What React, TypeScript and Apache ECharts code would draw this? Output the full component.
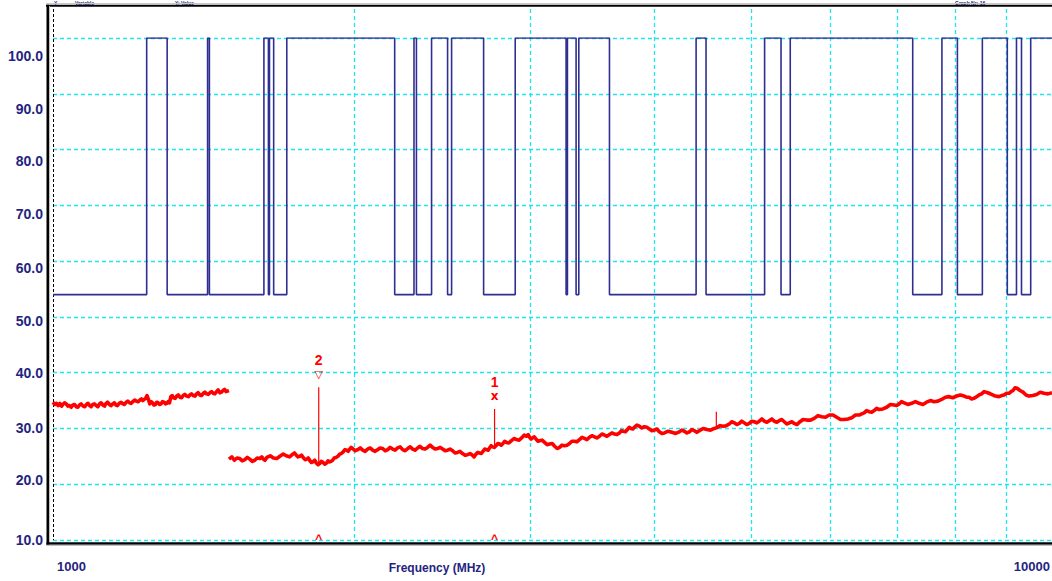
import React, { useEffect, useRef } from "react";
import * as echarts from "echarts";

// Frequency span (MHz) and vertical level range (dB)
const FREQ_MIN = 1000;
const FREQ_MAX = 10000;
const LEVEL_MIN = 10;
const LEVEL_MAX = 100;
const LEVEL_STEP = 10;

// Decade subdivisions drawn as vertical grid lines
const freqGridLines = [2000, 3000, 4000, 5000, 6000, 7000, 8000, 9000];

// Left-hand level labels and the row each one sits on
const levelLabels = ["100.0", "90.0", "80.0", "70.0", "60.0", "50.0", "40.0", "30.0", "20.0", "10.0"];
const levelLabelRows = [56, 109, 161, 214, 268, 321, 373, 428, 480, 540];

// Scan state trace: toggles between two levels at these frequencies (starts low)
const stateLow = 54;
const stateHigh = 100;
const stateEdges = [
  1241, 1301, 1428, 1434, 1626, 1643, 1647, 1663, 1714, 2198, 2298, 2311, 2393, 2483, 2506,
  2698, 2902, 3263, 3273, 3339, 3360, 3606, 4403, 4505, 5156, 5355, 5470, 7254, 7759, 8041,
  8517, 9021, 9214, 9321, 9521,
];

// Measured emission level, lower band 1000-1500 MHz
const lowBandTrace: [number, number][] = [
  [1000, 34.7], [1004, 34.3], [1008, 34.5], [1012, 34.1], [1016, 34.5], [1020, 34.0],
  [1023, 34.3], [1027, 34.6], [1031, 34.4], [1035, 34.0], [1039, 34.1], [1043, 33.8],
  [1047, 34.2], [1051, 34.3], [1055, 33.9], [1059, 33.8], [1063, 34.2], [1067, 34.4],
  [1072, 34.0], [1076, 33.9], [1080, 34.3], [1084, 34.5], [1088, 34.1], [1092, 33.9],
  [1096, 34.3], [1100, 34.4], [1105, 34.1], [1109, 33.9], [1113, 34.4], [1117, 34.6],
  [1122, 34.2], [1126, 34.0], [1130, 34.5], [1134, 34.7], [1139, 34.3], [1143, 34.1],
  [1148, 34.4], [1152, 34.6], [1156, 34.2], [1160, 34.1], [1165, 34.5], [1170, 34.7],
  [1175, 34.4], [1179, 34.3], [1184, 34.7], [1188, 34.9], [1193, 34.6], [1197, 34.5],
  [1202, 34.8], [1207, 35.1], [1212, 34.9], [1217, 34.8], [1222, 35.1], [1226, 35.3],
  [1230, 35.0], [1234, 35.2], [1238, 35.4], [1242, 35.9], [1246, 35.2], [1250, 34.4],
  [1254, 34.8], [1258, 34.6], [1262, 34.2], [1266, 34.3], [1270, 34.7], [1274, 34.6],
  [1278, 34.3], [1283, 34.4], [1287, 34.8], [1292, 34.7], [1296, 34.4], [1300, 34.5],
  [1304, 34.8], [1308, 34.6], [1312, 35.7], [1316, 35.9], [1320, 35.5], [1325, 35.4],
  [1330, 35.8], [1335, 36.0], [1340, 35.6], [1345, 35.5], [1350, 35.9], [1355, 36.1],
  [1361, 35.8], [1366, 35.7], [1371, 36.0], [1376, 36.2], [1382, 35.9], [1387, 35.8],
  [1392, 36.2], [1397, 36.4], [1403, 36.0], [1408, 35.9], [1414, 36.3], [1419, 36.5],
  [1425, 36.2], [1430, 36.1], [1436, 36.4], [1441, 36.6], [1447, 36.3], [1452, 36.2],
  [1458, 36.6], [1463, 36.9], [1469, 36.4], [1474, 36.5], [1480, 36.8], [1485, 37.0],
  [1490, 36.6], [1495, 36.7], [1500, 36.8],
];

// Measured emission level, upper band 1500-10000 MHz
const highBandTrace: [number, number][] = [
  [1500, 24.5], [1510, 24.9], [1519, 24.3], [1528, 24.7], [1538, 24.6], [1547, 24.2],
  [1556, 24.4], [1565, 24.8], [1574, 24.5], [1583, 24.1], [1592, 24.3], [1601, 24.7],
  [1611, 24.6], [1618, 24.9], [1624, 24.5], [1630, 24.3], [1637, 24.8], [1650, 25.1],
  [1662, 24.7], [1675, 24.6], [1687, 25.0], [1700, 25.4], [1712, 25.1], [1725, 24.9],
  [1738, 25.4], [1745, 25.6], [1752, 25.2], [1759, 24.9], [1766, 25.0], [1773, 25.2],
  [1780, 24.8], [1788, 24.4], [1795, 24.5], [1801, 24.7], [1808, 24.2], [1814, 23.9],
  [1820, 24.0], [1828, 24.3], [1835, 23.8], [1842, 23.5], [1849, 23.7], [1856, 24.1],
  [1864, 23.9], [1871, 23.6], [1879, 23.8], [1885, 24.2], [1892, 24.0], [1898, 24.1],
  [1905, 24.3], [1912, 24.7], [1920, 24.8], [1928, 25.0], [1936, 25.4], [1944, 25.5],
  [1952, 25.8], [1960, 26.2], [1968, 26.1], [1975, 25.9], [1982, 26.3], [1988, 26.6],
  [1995, 26.4], [2006, 26.0], [2018, 26.2], [2030, 26.5], [2042, 26.1], [2053, 25.9],
  [2065, 26.3], [2077, 26.5], [2089, 26.1], [2101, 25.9], [2113, 26.2], [2125, 26.5],
  [2138, 26.4], [2150, 26.0], [2163, 26.2], [2175, 26.6], [2188, 26.3], [2200, 26.1],
  [2213, 26.5], [2226, 26.7], [2239, 26.2], [2252, 26.0], [2265, 26.4], [2278, 26.7],
  [2291, 26.3], [2304, 26.1], [2317, 26.5], [2330, 26.8], [2344, 26.4], [2357, 26.3],
  [2371, 26.6], [2385, 27.0], [2399, 26.6], [2413, 26.3], [2427, 26.4], [2441, 26.6],
  [2455, 26.3], [2469, 26.0], [2483, 26.1], [2497, 26.3], [2512, 26.0], [2526, 25.6],
  [2541, 25.7], [2555, 25.9], [2570, 25.5], [2585, 25.2], [2600, 25.3], [2615, 25.5],
  [2630, 25.2], [2640, 24.9], [2651, 25.4], [2662, 25.7], [2673, 25.6], [2684, 25.5],
  [2694, 25.9], [2705, 26.3], [2716, 26.2], [2726, 26.1], [2735, 26.5], [2745, 26.9],
  [2754, 26.7], [2765, 26.6], [2776, 26.9], [2788, 27.3], [2799, 27.2], [2810, 27.0],
  [2821, 27.3], [2832, 27.7], [2844, 27.5], [2860, 27.4], [2877, 27.8], [2894, 28.2],
  [2911, 28.0], [2928, 27.9], [2945, 28.3], [2962, 28.8], [2979, 28.6], [2990, 28.9],
  [3000, 28.4], [3010, 28.1], [3020, 28.3], [3032, 28.5], [3045, 28.1], [3057, 27.7],
  [3069, 27.8], [3087, 27.9], [3105, 27.5], [3123, 27.1], [3141, 27.2], [3160, 27.3],
  [3178, 26.8], [3196, 26.4], [3214, 26.6], [3232, 27.0], [3251, 26.9], [3270, 27.0],
  [3289, 27.3], [3307, 27.7], [3326, 27.7], [3345, 27.6], [3365, 28.0], [3385, 28.4],
  [3404, 28.2], [3423, 28.0], [3443, 28.4], [3463, 28.7], [3483, 28.5], [3503, 28.3],
  [3524, 28.6], [3544, 29.0], [3565, 28.8], [3585, 28.6], [3606, 28.9], [3627, 29.2],
  [3648, 29.0], [3669, 28.9], [3690, 29.2], [3707, 29.6], [3724, 29.5], [3741, 29.4],
  [3758, 29.8], [3774, 30.2], [3790, 30.0], [3805, 29.9], [3819, 30.2], [3841, 30.6],
  [3863, 30.4], [3885, 30.1], [3908, 30.3], [3930, 30.2], [3953, 29.9], [3976, 29.6],
  [3999, 29.7], [4022, 29.9], [4045, 29.4], [4069, 29.1], [4093, 29.2], [4128, 29.5],
  [4164, 29.3], [4200, 29.1], [4236, 29.4], [4260, 29.7], [4285, 29.5], [4310, 29.2],
  [4335, 29.4], [4360, 29.8], [4385, 29.6], [4410, 29.3], [4436, 29.6], [4474, 30.0],
  [4513, 29.8], [4552, 29.7], [4592, 30.0], [4613, 30.1], [4654, 30.5], [4688, 30.4],
  [4720, 30.5], [4753, 30.8], [4780, 31.2], [4808, 31.0], [4836, 30.7], [4864, 30.9],
  [4892, 31.3], [4920, 31.0], [4948, 30.7], [4977, 30.9], [5006, 31.3], [5035, 31.2],
  [5064, 31.0], [5093, 31.3], [5122, 31.7], [5152, 31.3], [5182, 31.1], [5212, 31.4],
  [5242, 31.7], [5272, 31.3], [5302, 31.1], [5333, 31.4], [5364, 31.6], [5395, 31.2],
  [5426, 30.8], [5458, 31.0], [5490, 31.2], [5521, 30.9], [5553, 30.7], [5585, 31.1],
  [5634, 31.6], [5683, 31.5], [5732, 31.5], [5781, 31.8], [5831, 32.3], [5882, 32.1],
  [5933, 32.0], [5984, 32.4], [6036, 32.4], [6088, 32.0], [6141, 31.6], [6194, 31.6],
  [6248, 31.7], [6302, 31.9], [6357, 32.4], [6412, 32.4], [6449, 32.6], [6486, 32.8],
  [6523, 33.2], [6561, 33.0], [6599, 32.9], [6637, 33.2], [6675, 33.6], [6714, 33.4],
  [6772, 33.5], [6831, 33.8], [6890, 34.3], [6950, 34.2], [6990, 34.1], [7030, 34.4],
  [7071, 34.8], [7112, 34.6], [7174, 34.3], [7236, 34.5], [7299, 34.8], [7362, 34.5],
  [7426, 34.3], [7490, 34.7], [7555, 35.0], [7621, 34.8], [7687, 34.9], [7754, 35.2],
  [7821, 35.6], [7889, 35.7], [7957, 35.5], [8026, 35.8], [8096, 36.0], [8166, 35.8],
  [8213, 35.6], [8260, 35.6], [8308, 35.3], [8356, 35.4], [8404, 35.7], [8453, 36.0],
  [8502, 36.2], [8551, 36.6], [8625, 36.4], [8700, 36.1], [8775, 35.8], [8851, 35.7],
  [8902, 35.9], [8953, 36.0], [9005, 36.3], [9057, 36.3], [9099, 36.6], [9141, 36.8],
  [9183, 37.3], [9226, 37.2], [9290, 36.8], [9354, 36.5], [9419, 36.0], [9484, 35.8],
  [9567, 35.9], [9650, 36.1], [9733, 36.5], [9817, 36.3], [9908, 36.2], [10000, 36.4],
];

// Isolated narrow spike on the upper band: frequency, floor, top
const spikeFreq = 4613;
const spikeFloor = 30.1;
const spikeTop = 33.0;

// Peak markers: frequency, trace level at the foot, peak level
const markerNames = ["2", "1"];
const markerFreqs = [1845, 2767];
const markerFoot = [23.8, 26.9];
const markerPeak = [37.4, 33.5];
const markerGlyphs = ["\u25BD", "x"];

const NAVY = "#24247f";
const CYAN = "#1fe6ee";
const RED = "#ff0000";
const FONT = '"Liberation Sans", Arial, sans-serif';

function buildStateTrace(): [number, number][] {
  const pts: [number, number][] = [[FREQ_MIN, stateLow]];
  let level = stateLow;
  for (const f of stateEdges) {
    const next = level === stateLow ? stateHigh : stateLow;
    pts.push([f, level], [f, next]);
    level = next;
  }
  pts.push([FREQ_MAX, level]);
  return pts;
}

function stem(name: string, f: number, from: number, to: number) {
  return {
    name,
    type: "line",
    data: [
      [f, from],
      [f, to],
    ],
    symbol: "none",
    lineStyle: { color: RED, width: 1.2 },
    z: 4,
  };
}

export default function App() {
  const ref = useRef<HTMLDivElement>(null);

  useEffect(() => {
    document.body.style.margin = "0";
    const chart = echarts.init(ref.current!, null, { renderer: "svg" });

    const markerSeries = markerNames.map((name, i) =>
      stem("marker " + name, markerFreqs[i], markerFoot[i], markerPeak[i])
    );

    chart.setOption({
      animation: false,
      backgroundColor: "#ffffff",
      grid: { left: 53, right: -1, top: 38, bottom: 41 },
      xAxis: {
        type: "log",
        logBase: 10,
        min: FREQ_MIN,
        max: FREQ_MAX,
        axisLine: { show: false },
        axisTick: { show: false },
        axisLabel: { show: false },
        splitLine: { show: false },
      },
      yAxis: {
        type: "value",
        min: LEVEL_MIN,
        max: LEVEL_MAX,
        interval: LEVEL_STEP,
        axisLine: { show: false },
        axisTick: { show: false },
        axisLabel: { show: false },
        splitLine: {
          show: true,
          lineStyle: { color: CYAN, width: 1.3, type: [4, 3] },
        },
      },
      series: [
        {
          name: "scan state",
          type: "line",
          data: buildStateTrace(),
          symbol: "none",
          lineStyle: { color: "#2f2f92", width: 1.6 },
          z: 3,
        },
        {
          name: "level 1-1.5 GHz",
          type: "line",
          data: lowBandTrace,
          symbol: "none",
          lineStyle: { color: RED, width: 3.6, join: "round" },
          z: 3,
        },
        {
          name: "level 1.5-10 GHz",
          type: "line",
          data: highBandTrace,
          symbol: "none",
          lineStyle: { color: RED, width: 3.6, join: "round" },
          z: 3,
        },
        stem("spike", spikeFreq, spikeFloor, spikeTop),
        ...markerSeries,
      ],
    });

    const toPx = (f: number, v: number) =>
      chart.convertToPixel({ gridIndex: 0 }, [f, v]) as number[];

    const yTop = toPx(FREQ_MIN, LEVEL_MAX)[1] - 29;
    const yBottom = toPx(FREQ_MIN, LEVEL_MIN)[1];
    const xLeft = toPx(FREQ_MIN, LEVEL_MIN)[0];

    const graphics: any[] = [];

    // vertical grid lines at the decade subdivisions
    freqGridLines.forEach((f) => {
      const x = Math.round(toPx(f, LEVEL_MIN)[0]) + 0.5;
      graphics.push({
        type: "line",
        z: 1,
        shape: { x1: x, y1: yTop, x2: x, y2: yBottom },
        style: { stroke: CYAN, lineWidth: 1.3, lineDash: [4, 3] },
        silent: true,
      });
    });
    // start-frequency line
    graphics.push({
      type: "line",
      z: 1,
      shape: { x1: xLeft + 0.5, y1: yTop, x2: xLeft + 0.5, y2: yBottom },
      style: { stroke: "#000000", lineWidth: 1, lineDash: [3, 2] },
      silent: true,
    });

    // outer frame
    graphics.push(
      { type: "rect", z: 50, shape: { x: 46, y: 3, width: 1010, height: 1 }, style: { fill: "#c8c8c8" } },
      { type: "rect", z: 50, shape: { x: 46, y: 4.8, width: 1010, height: 2 }, style: { fill: "#000000" } },
      { type: "rect", z: 50, shape: { x: 46.5, y: 4.8, width: 2.6, height: 540.5 }, style: { fill: "#000000" } },
      { type: "rect", z: 50, shape: { x: 49.1, y: 6, width: 1, height: 537 }, style: { fill: "#bdbdbd" } },
      { type: "rect", z: 50, shape: { x: 46.5, y: 542.3, width: 1010, height: 2.4 }, style: { fill: "#000000" } },
      { type: "rect", z: 50, shape: { x: 46.5, y: 544.8, width: 1010, height: 1.2 }, style: { fill: "#c0c0c0" } }
    );

    // header line above the frame
    const header = [
      { text: "Y", x: 54 },
      { text: "Variable", x: 75 },
      { text: "Y: Value", x: 175 },
      { text: "Graph Nr: 16", x: 955 },
    ];
    header.forEach((h) =>
      graphics.push({
        type: "text",
        z: 40,
        x: h.x,
        y: 0,
        style: {
          text: h.text,
          fill: NAVY,
          font: `bold 5px ${FONT}`,
          textAlign: "left",
          textVerticalAlign: "top",
        },
      })
    );

    // level labels
    levelLabels.forEach((t, i) =>
      graphics.push({
        type: "text",
        z: 40,
        x: 43,
        y: levelLabelRows[i],
        style: {
          text: t,
          fill: NAVY,
          font: `bold 14px ${FONT}`,
          textAlign: "right",
          textVerticalAlign: "middle",
        },
      })
    );

    // frequency labels and axis title
    graphics.push(
      {
        type: "text",
        z: 40,
        x: xLeft + 4,
        y: 566,
        style: { text: String(FREQ_MIN), fill: NAVY, font: `bold 13px ${FONT}`, textAlign: "left", textVerticalAlign: "middle" },
      },
      {
        type: "text",
        z: 40,
        x: Math.min(toPx(FREQ_MAX, LEVEL_MIN)[0], 1050),
        y: 566,
        style: { text: String(FREQ_MAX), fill: NAVY, font: `bold 13px ${FONT}`, textAlign: "right", textVerticalAlign: "middle" },
      },
      {
        type: "text",
        z: 40,
        x: 437,
        y: 568,
        style: { text: "Frequency (MHz)", fill: NAVY, font: `bold 12px ${FONT}`, textAlign: "center", textVerticalAlign: "middle" },
      }
    );

    // marker numbers, heads and baseline carets
    markerNames.forEach((name, i) => {
      const p = toPx(markerFreqs[i], markerPeak[i]);
      const x = p[0];
      graphics.push(
        {
          type: "text",
          z: 40,
          x,
          y: p[1] - 27,
          style: { text: name, fill: RED, font: `bold 14px ${FONT}`, textAlign: "center", textVerticalAlign: "middle" },
        },
        {
          type: "text",
          z: 40,
          x,
          y: p[1] - 13,
          style: {
            text: markerGlyphs[i],
            fill: RED,
            font: `bold ${i === 0 ? 11 : 12}px "DejaVu Sans", ${FONT}`,
            textAlign: "center",
            textVerticalAlign: "middle",
          },
        },
        {
          type: "text",
          z: 40,
          x,
          y: yBottom - 1,
          style: { text: "^", fill: RED, font: `bold 12px ${FONT}`, textAlign: "center", textVerticalAlign: "middle" },
        }
      );
    });

    chart.setOption({ graphic: graphics });

    return () => chart.dispose();
  }, []);

  return <div ref={ref} style={{ width: 1052, height: 581 }} />;
}
